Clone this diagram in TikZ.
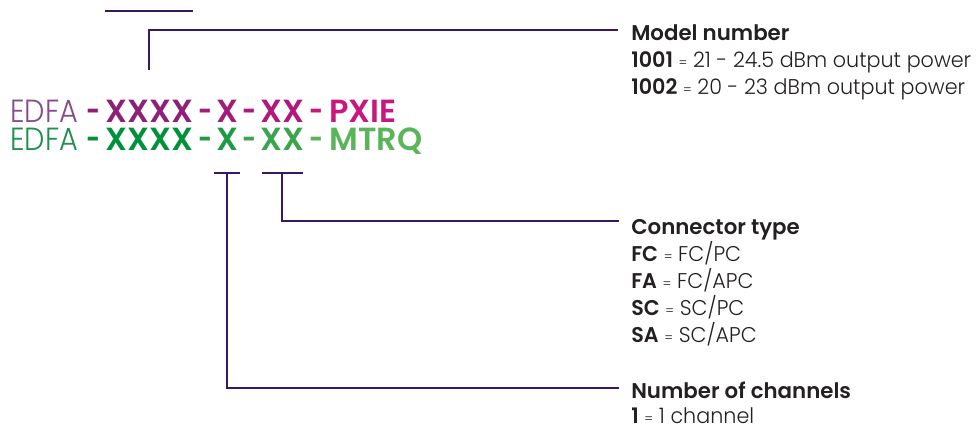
\documentclass[tikz,border=0pt]{standalone}
\usepackage{fontspec}
\usepackage{graphicx}
\setmainfont{Poppins}[UprightFont={* Light},BoldFont={* SemiBold}]
\newfontfamily\keyfont{Poppins}[UprightFont={* Light},BoldFont={* SemiBold},FakeStretch=0.97]
\newfontfamily\edfafont{Poppins Light}[FakeStretch=0.9]
\usepackage{tikz}
\usetikzlibrary{calc,positioning}
\definecolor{leadline}{RGB}{58,24,96}
\definecolor{inktext}{RGB}{36,32,34}
\definecolor{pxiea}{RGB}{135,74,138}
\definecolor{pxieb}{RGB}{142,33,118}
\definecolor{pxiec}{RGB}{160,30,122}
\definecolor{pxied}{RGB}{178,24,124}
\definecolor{pxiee}{RGB}{200,23,127}
\definecolor{mtrqa}{RGB}{30,143,76}
\definecolor{mtrqb}{RGB}{0,145,60}
\definecolor{mtrqc}{RGB}{30,155,69}
\definecolor{mtrqd}{RGB}{58,165,77}
\definecolor{mtrqe}{RGB}{90,181,90}
\tikzset{
  codelight/.style={anchor=base west,inner sep=0pt,font=\fontsize{24}{24}\edfafont},
  codebold/.style={anchor=base west,inner sep=0pt,font=\fontsize{24}{24}\selectfont\bfseries},
  keyhead/.style={anchor=base west,inner sep=0pt,text=inktext,font=\fontsize{16}{16}\selectfont\bfseries},
  keyline/.style={anchor=base west,inner sep=0pt,text=inktext,font=\fontsize{16}{16}\keyfont},
  lead/.style={draw=leadline,line width=1.8pt},
}
\newcommand{\eqsign}{{\fontsize{10}{10}\selectfont =}}
\newcommand{\codedash}{\scalebox{0.75}[1]{-}}
% #1 colour/name prefix, #2 baseline, #3 last field
\newcommand{\coderow}[3]{%
  \node[codelight,text=#1a] (#1edfa) at (10,-#2) {EDFA};%
  \node[codebold,text=#1b] (#1da) at (86,-#2) {\codedash};%
  \node[codebold,text=#1b] (#1mod) at (105,-#2) {XXXX};%
  \node[codebold,text=#1c] (#1db) at (198,-#2) {\codedash};%
  \node[codebold,text=#1c] (#1ch) at (216,-#2) {X};%
  \node[codebold,text=#1d] (#1dc) at (242,-#2) {\codedash};%
  \node[codebold,text=#1d] (#1con) at (260,-#2) {XX};%
  \node[codebold,text=#1e] (#1dd) at (309,-#2) {\codedash};%
  \node[codebold,text=#1e] (#1bus) at (329,-#2) {#3};%
}

\begin{document}
\begin{tikzpicture}[x=0.75pt,y=0.75pt]
  \useasboundingbox (0,0) rectangle (977,-429);
  \coderow{pxie}{122.5}{PXIE}
  \coderow{mtrq}{150}{MTRQ}
  % key on the right
  \node[keyhead] (mdl) at (631,-40) {Model number};
  \node[keyline] (mdla) at (631,-67) {\textbf{1001} \eqsign{} 21 - 24.5 dBm output power};
  \node[keyline] (mdlb) at (631,-94) {\textbf{1002} \eqsign{} 20 - 23 dBm output power};
  \node[keyhead] (cnt) at (631,-234) {Connector type};
  \node[keyline] (cnta) at (631,-261) {\textbf{FC} \eqsign{} FC/PC};
  \node[keyline] (cntb) at (631,-288) {\textbf{FA} \eqsign{} FC/APC};
  \node[keyline] (cntc) at (631,-315) {\textbf{SC} \eqsign{} SC/PC};
  \node[keyline] (cntd) at (631,-342) {\textbf{SA} \eqsign{} SC/APC};
  \node[keyhead] (chn) at (631,-398) {Number of channels};
  \node[keyline] (chna) at (631,-423) {\textbf{1} \eqsign{} 1 channel};
  % leader lines
  \coordinate (mdlhook) at ($(mdl.base west)+(-13,10)$);
  \coordinate (cnthook) at ($(cnt.base west)+(-12,13)$);
  \coordinate (chnhook) at ($(chn.base west)+(-12,10)$);
  \coordinate (conbar) at (mtrqcon.south |- 0,-173);
  \coordinate (chbar) at (mtrqch.south |- 0,-173);
  \draw[lead] (pxiemod.west |- 0,-11) -- (pxiemod.east |- 0,-11);
  \draw[lead] (pxiemod.north |- 0,-70) |- (mdlhook);
  \draw[lead] ($(conbar)+(-20,0)$) -- ($(conbar)+(21,0)$);
  \draw[lead] (conbar) |- (cnthook);
  \draw[lead] ($(chbar)+(-13,0)$) -- ($(chbar)+(13,0)$);
  \draw[lead] (chbar) |- (chnhook);
\end{tikzpicture}
\end{document}
